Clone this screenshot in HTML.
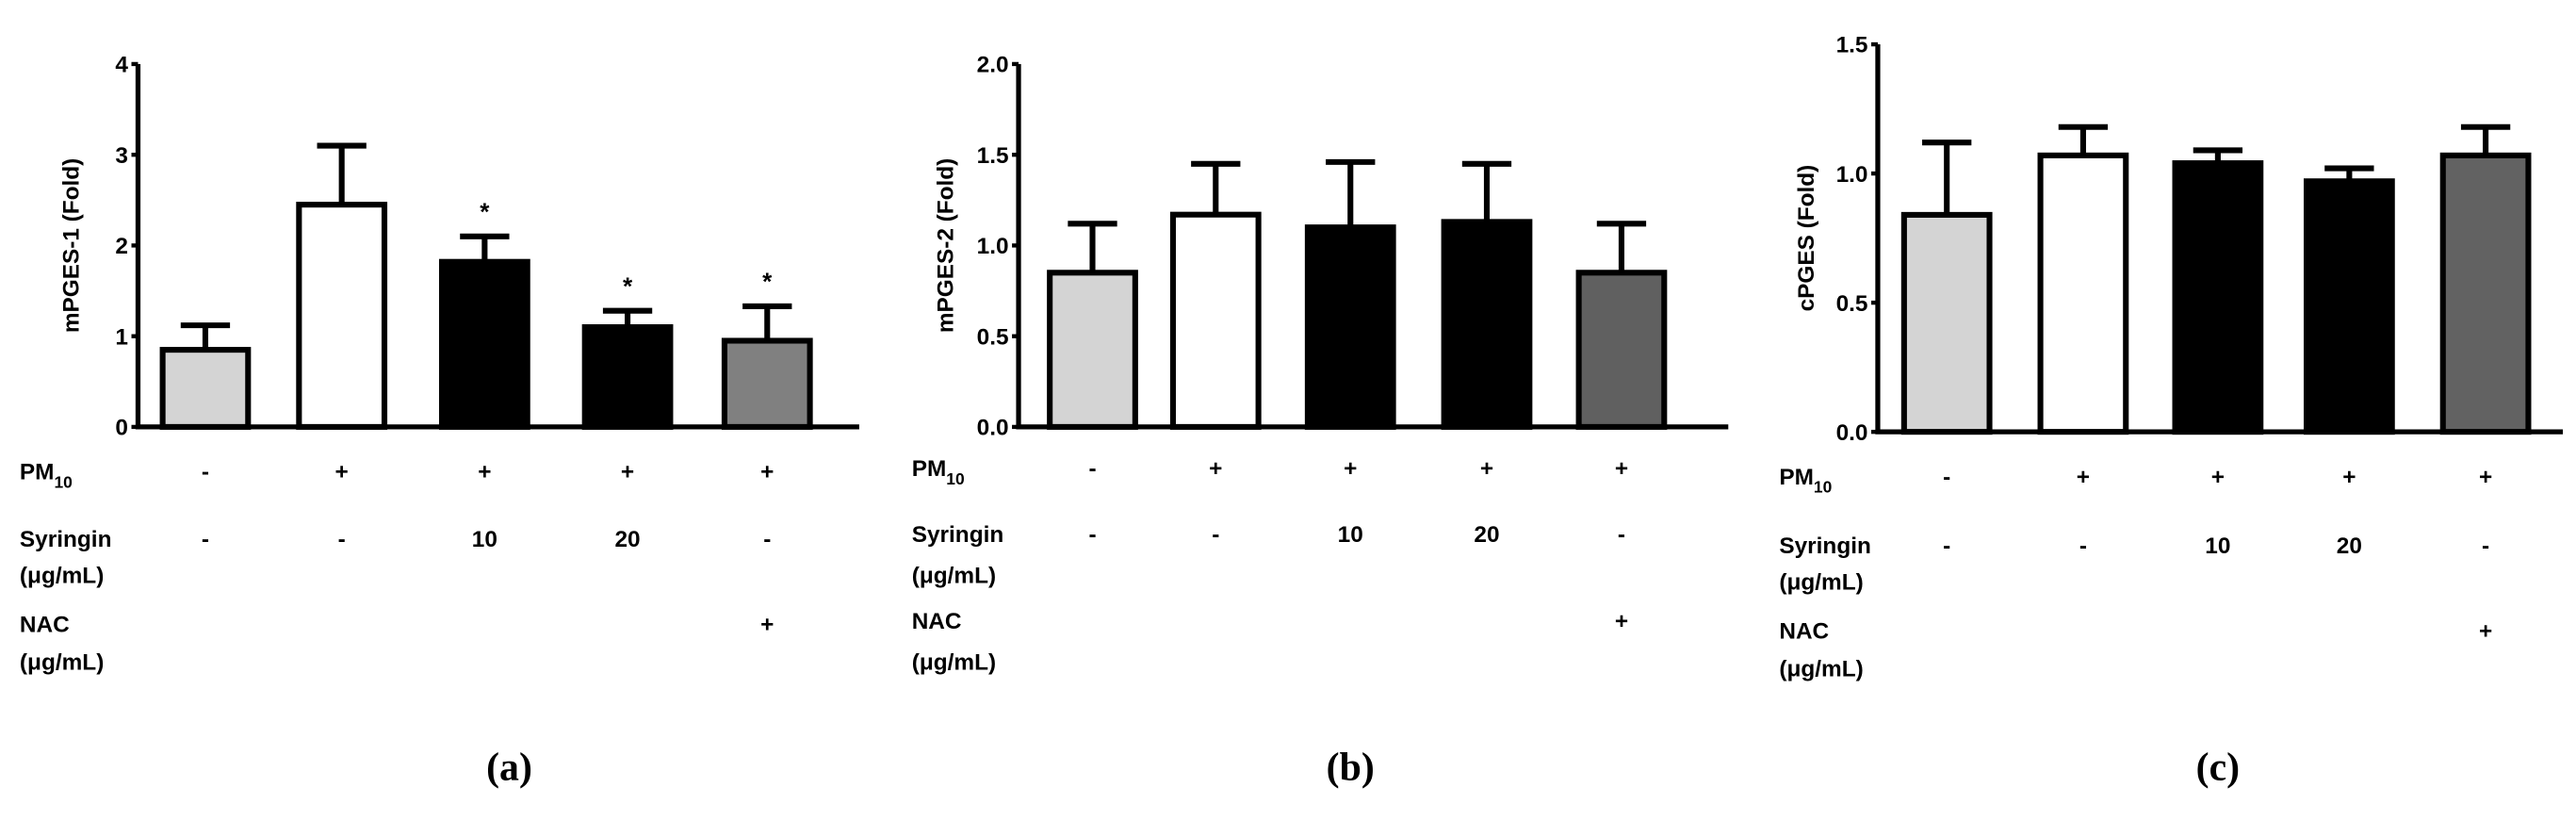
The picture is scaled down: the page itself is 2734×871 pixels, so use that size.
<!DOCTYPE html>
<html><head><meta charset="utf-8"><style>
html,body{margin:0;padding:0;background:#fff;}
svg{display:block;}
text{font-family:"Liberation Sans",sans-serif;font-weight:bold;}
</style></head><body>
<svg id="fig" width="2734" height="871" viewBox="0 0 1568 500" preserveAspectRatio="none" xmlns="http://www.w3.org/2000/svg"></svg>
<script>
const categories = ["Control","PM10","PM10+Syr10","PM10+Syr20","PM10+NAC"];
const pmRow = ["-","+","+","+","+"];
const syrRow = ["-","-","10","20","-"];
const nacRow = ["","","","","+"];
const valuesA = [0.85,2.45,1.82,1.1,0.95];
const errA = [1.12,3.1,2.1,1.28,1.33];
const starsA = [false,false,true,true,true];
const ticksA = ["0","1","2","3","4"];
const tickValsA = [0,1,2,3,4];
const valuesB = [0.85,1.17,1.1,1.13,0.85];
const errB = [1.12,1.45,1.46,1.45,1.12];
const ticksB = ["0.0","0.5","1.0","1.5","2.0"];
const tickValsB = [0,0.5,1,1.5,2];
const valuesC = [0.84,1.07,1.04,0.97,1.07];
const errC = [1.12,1.18,1.09,1.02,1.18];
const ticksC = ["0.0","0.5","1.0","1.5"];
const tickValsC = [0,0.5,1,1.5];

const NS="http://www.w3.org/2000/svg";
const svg=document.getElementById('fig');
function mk(tag,attrs,parent){const e=document.createElementNS(NS,tag);for(const k in attrs)e.setAttribute(k,attrs[k]);(parent||svg).appendChild(e);return e;}

function panel(cfg){
  const g=mk('g',{});
  
  
  const y=v=>cfg.y0-(v/cfg.max)*(cfg.y0-cfg.yTop);
  cfg.vals.forEach((v,i)=>{
    const cx=cfg.centers[i], w=52;
    const e=cfg.errs[i];
    const eb=mk('path',{d:`M${cx} ${y(v)} V${y(e)} M${cx-15} ${y(e)} H${cx+15}`,stroke:'#000','stroke-width':3.5,fill:'none'},g);
    
    
    const r=mk('rect',{x:cx-w/2,y:y(v),width:w,height:cfg.y0-y(v),fill:cfg.colors[i],stroke:'#000','stroke-width':3.5},g);
    
    
    if(cfg.stars&&cfg.stars[i]){
      const s=mk('text',{x:cx,y:y(e)-10,'font-size':15,'text-anchor':'middle'},g);s.textContent='*';
      
      
    }
  });
  const ax=mk('path',{d:`M${cfg.ax} ${cfg.yTop} V${cfg.y0} H${cfg.axEnd}`,stroke:'#000','stroke-width':3,fill:'none'},g);
  
  
  cfg.tickVals.forEach((t,i)=>{
    mk('line',{x1:cfg.ax-4,x2:cfg.ax,y1:y(t),y2:y(t),stroke:'#000','stroke-width':2.5},g);
    const tx=mk('text',{x:cfg.ax-6,y:y(t)+5,'font-size':14,'text-anchor':'end'},g);tx.textContent=cfg.ticks[i];
    
    
  });
  const yl=mk('text',{x:0,y:0,'font-size':14,'text-anchor':'middle',transform:`translate(${cfg.ylx},${(cfg.y0+cfg.yTop)/2}) rotate(-90)`},g);
  yl.textContent=cfg.ylabel;
  
  
  const L=cfg.labX, R=cfg.rows;
  const pm=mk('text',{x:L,y:R[0],'font-size':14},g);
  pm.innerHTML='PM<tspan font-size="10" dy="5">10</tspan>';
  
  
  const labs=[['Syringin',R[1]],['(μg/mL)',R[2]],['NAC',R[3]],['(μg/mL)',R[4]]];
  labs.forEach(([t,yy])=>{const e=mk('text',{x:L,y:yy,'font-size':14},g);e.textContent=t;
    
    });
  [[pmRow,R[0]],[syrRow,R[1]],[nacRow,R[3]]].forEach(([arr,yy])=>{
    arr.forEach((t,i)=>{if(!t)return;const e=mk('text',{x:cfg.centers[i],y:yy,'font-size':14,'text-anchor':'middle'},g);e.textContent=t;
      
      });
  });
  const cap=mk('text',{x:cfg.capX,y:475,'font-size':24,'text-anchor':'middle',style:'font-family:"Liberation Serif",serif;font-weight:bold'},g);
  cap.textContent='('+cfg.id+')';
  
  
}

panel({id:'a',vals:valuesA,errs:errA,stars:starsA,ticks:ticksA,tickVals:tickValsA,max:4,
  y0:260,yTop:39,ax:84,axEnd:523,centers:[125,208,295,382,467],
  colors:['#d4d4d4','#fff','#000','#000','#808080'],ylx:48,ylabel:'mPGES-1 (Fold)',
  labX:12,rows:[292,333,355,385,408],capX:310});
panel({id:'b',vals:valuesB,errs:errB,ticks:ticksB,tickVals:tickValsB,max:2,
  y0:260,yTop:39,ax:620,axEnd:1052,centers:[665,740,822,905,987],
  colors:['#d4d4d4','#fff','#000','#000','#606060'],ylx:580,ylabel:'mPGES-2 (Fold)',
  labX:555,rows:[290,330,355,383,408],capX:822});
panel({id:'c',vals:valuesC,errs:errC,ticks:ticksC,tickVals:tickValsC,max:1.5,
  y0:263,yTop:27,ax:1143,axEnd:1560,centers:[1185,1268,1350,1430,1513],
  colors:['#d4d4d4','#fff','#000','#000','#626262'],ylx:1104,ylabel:'cPGES (Fold)',
  labX:1083,rows:[295,337,359,389,412],capX:1350});
</script>
</body></html>
